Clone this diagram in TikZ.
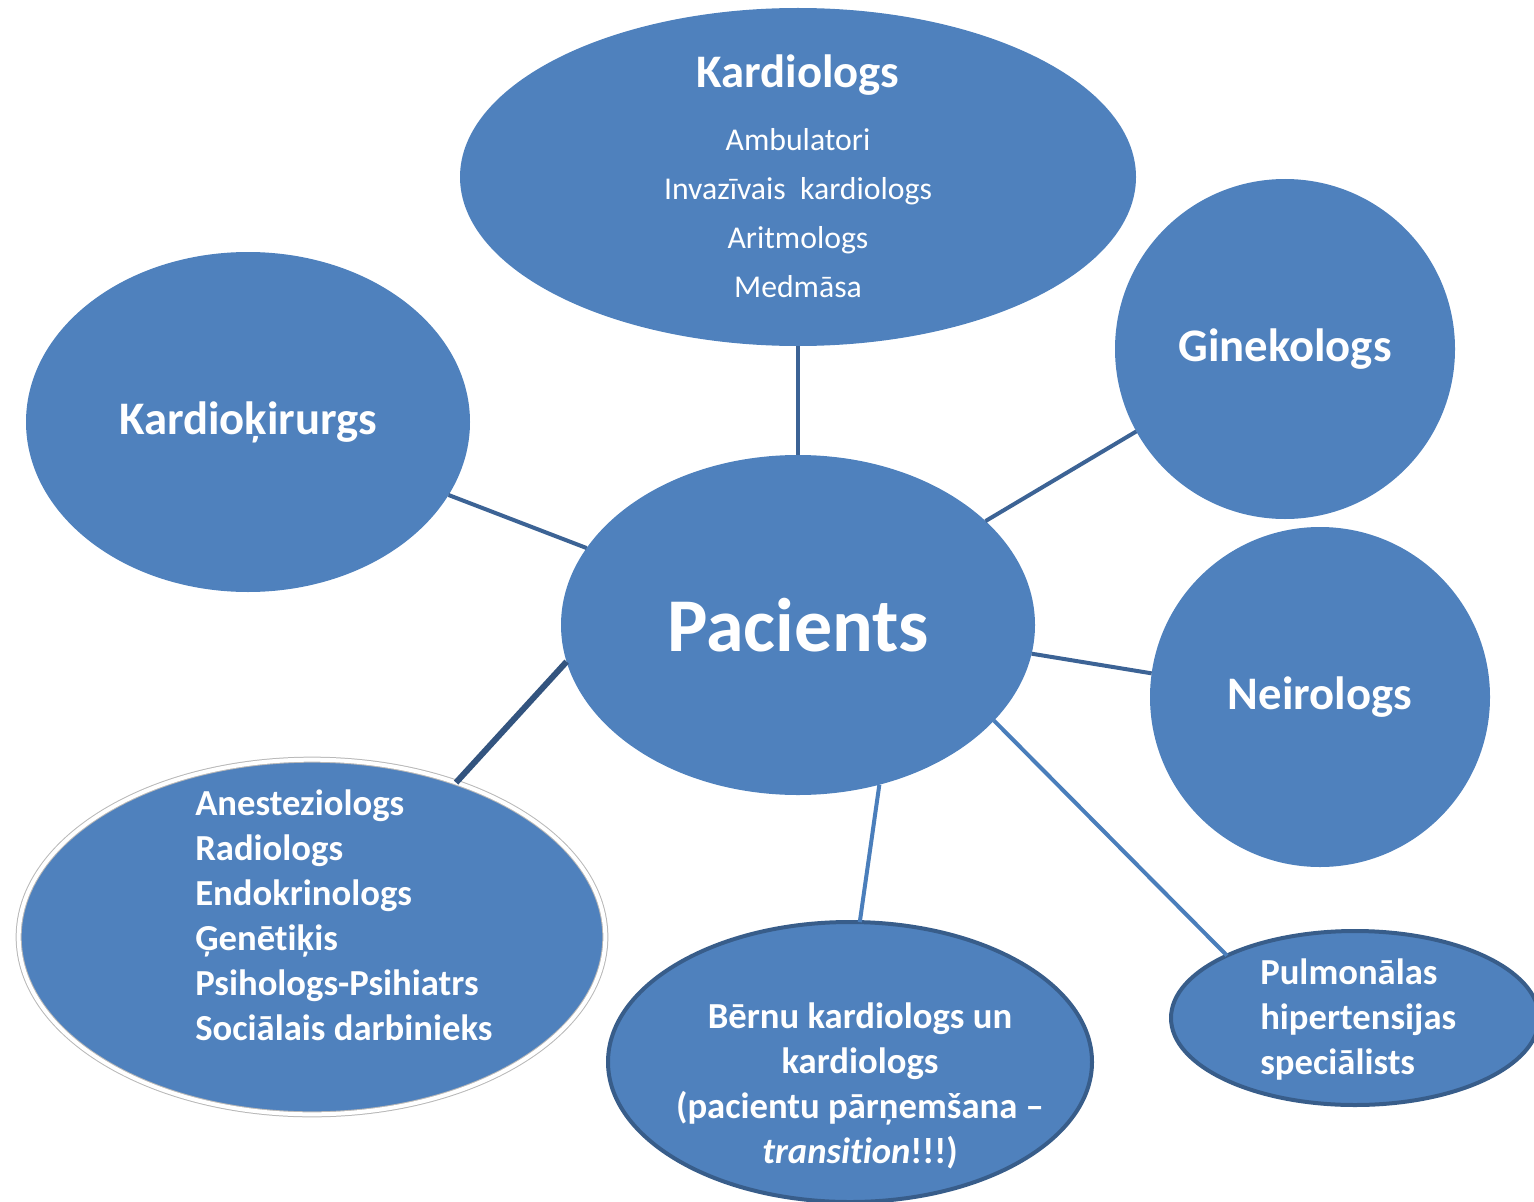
\documentclass[tikz,border=0pt]{standalone}
\usepackage{fontspec}
\setmainfont{Carlito}[Ligatures=NoCommon]
\usetikzlibrary{shapes.geometric}
\definecolor{fillblue}{HTML}{4F81BD}
\definecolor{linedark}{HTML}{3C6395}
\definecolor{linelight}{HTML}{4A7EBB}
\definecolor{borderdark}{HTML}{385D8A}
\begin{document}
\begin{tikzpicture}[x=0.75pt,y=-0.75pt,
  blob/.style={ellipse,fill=fillblue,inner sep=0pt,outer sep=0pt,text=white},
  darkrim/.style={draw=borderdark,line width=3pt},
  headtxt/.style={text=white,font=\bfseries\fontsize{35}{42}\selectfont},
  listtxt/.style={text=white,font=\bfseries\fontsize{27.5}{33.75}\selectfont,inner sep=0pt},
  link/.style={draw=linedark,line width=3pt},
  linkl/.style={draw=linelight,line width=3pt}]
\useasboundingbox (0,0) rectangle (1534,1202);
\clip (0,0) rectangle (1534,1202);
% nodes
\node[blob,minimum width=507pt,minimum height=253.5pt] (kard) at (798,177) {};
\node[headtxt] (kardh) at (798,75) {Kardiologs};
\node[text=white,align=center,font=\fontsize{23.8}{36.75}\selectfont] (kards) at (798,213)
  {Ambulatori\\Invazīvais\ \ kardiologs\\Aritmologs\\Medmāsa};
\node[blob,minimum width=333pt,minimum height=255pt,headtxt] (kir) at (248,422) {Kardioķirurgs};
\node[blob,minimum width=255pt,minimum height=255pt,headtxt] (gin) at (1285,349) {Ginekologs};
\node[blob,minimum width=255pt,minimum height=255pt,headtxt] (neir) at (1320,697) {Neirologs};
\node[blob,minimum width=355.5pt,minimum height=255pt,text=white,font=\bfseries\fontsize{57}{66}\selectfont] (pac) at (798,625) {Pacients};
\node[blob,minimum width=440pt,minimum height=266pt,draw=black!28,line width=0.75pt,double=white,double distance=3pt] (bl) at (312,937) {};
\node[listtxt,align=left,anchor=west] (blt) at (195,915)
  {Anesteziologs\\Radiologs\\Endokrinologs\\Ģenētiķis\\Psihologs-Psihiatrs\\Sociālais darbinieks};
\node[blob,darkrim,minimum width=363pt,minimum height=210pt] (bern) at (850,1062) {};
\node[listtxt,align=center] (bernt) at (860,1086)
  {Bērnu kardiologs un\\kardiologs\\(pacientu pārņemšana –\\\textit{transition}!!!)};
\node[blob,darkrim,minimum width=276pt,minimum height=130.5pt] (pulm) at (1355,1018) {};
\node[listtxt,align=left,anchor=west] (pulmt) at (1260,1020)
  {Pulmonālas\\hipertensijas\\speciālists};
% connectors
\draw[link] (kard.-90) -- (pac.90);
\draw[link] (kir.-20) -- (pac.160);
\draw[link] (pac.29.6) -- (gin.209.5);
\draw[link] (pac.-7.7) -- (neir.172);
\draw[draw=linedark!85!black,line width=4.5pt] (pac.189.4) -- (bl.47.4);
\draw[linkl] (pac.-63.4) -- (bern.86.4);
\draw[linkl] (pac.-26.9) -- (pulm.154.3);
\end{tikzpicture}
\end{document}
